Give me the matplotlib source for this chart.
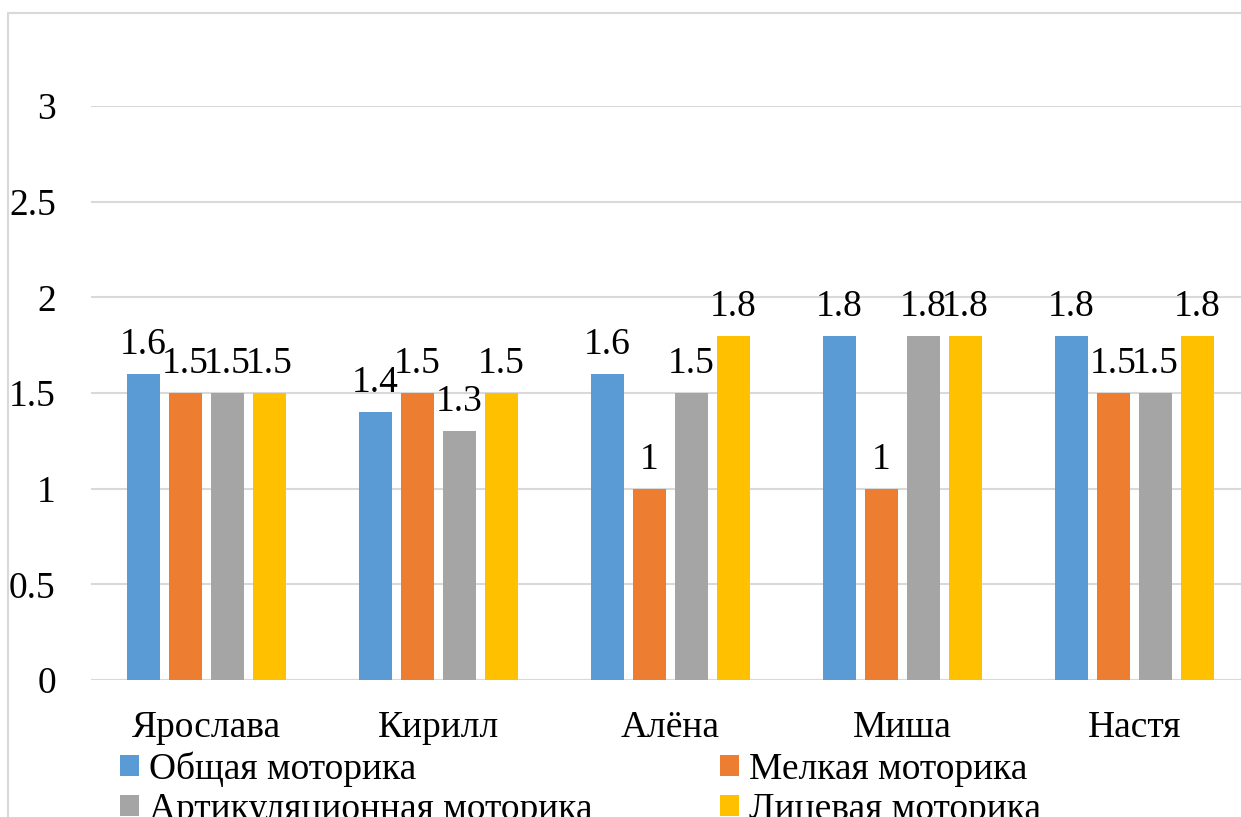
import matplotlib
matplotlib.use("Agg")
import matplotlib.pyplot as plt
from matplotlib.patches import Rectangle
import numpy as np

children = ["Ярослава", "Кирилл", "Алёна", "Миша", "Настя"]
series_names = ["Общая моторика", "Мелкая моторика", "Артикуляционная моторика", "Лицевая моторика"]
general = [1.6, 1.4, 1.6, 1.8, 1.8]
fine = [1.5, 1.5, 1.0, 1.0, 1.5]
articulation = [1.5, 1.3, 1.5, 1.8, 1.5]
facial = [1.5, 1.5, 1.8, 1.8, 1.8]
y_ticks = [0, 0.5, 1, 1.5, 2, 2.5, 3]

colors = ["#5B9BD5", "#ED7D31", "#A5A5A5", "#FFC000"]
grid_color = "#d9d9d9"
font = "Liberation Serif"
fs = 27

W, H = 1241, 817
fig = plt.figure(figsize=(W / 100, H / 100), dpi=100)
ax = fig.add_axes([90.5 / W, (H - 680) / H, 1160 / W, 574 / H])

x = np.arange(len(children))
step = 0.181
width = 0.142
handles = []
for i, (vals, name) in enumerate(zip([general, fine, articulation, facial], series_names)):
    bars = ax.bar(x + (i - 1.5) * step, vals, width, color=colors[i], label=name, zorder=3)
    ax.bar_label(bars, fmt="%g", padding=8.5, fontsize=fs, family=font)
    handles.append(bars)

ax.set_xlim(-0.5, 4.5)
ax.set_ylim(0, 3)
ax.set_yticks(y_ticks)
ax.set_yticklabels([f"{t:g}" for t in y_ticks], family=font, fontsize=fs)
ax.set_xticks(x)
ax.set_xticklabels(children, family=font, fontsize=fs)
ax.tick_params(axis="y", length=0, pad=25)
ax.tick_params(axis="x", length=0, pad=22)
ax.grid(axis="y", color=grid_color, linewidth=1.5, zorder=0)
ax.set_axisbelow(True)
for s in ax.spines.values():
    s.set_visible(False)
ax.axhline(0, color=grid_color, linewidth=1.5, zorder=1)

# Excel fills the legend row by row
order = [0, 2, 1, 3]
leg = fig.legend([handles[k] for k in order], [series_names[k] for k in order],
                 ncol=2, loc="upper left", bbox_to_anchor=(120 / W, 1 - 751.5 / H),
                 frameon=False, prop={"family": font, "size": fs},
                 handlelength=0.5, handleheight=0.5,
                 handletextpad=0.27, columnspacing=3.4, labelspacing=0.14,
                 borderpad=0, borderaxespad=0)

fig.patches.append(Rectangle((8 / W, -0.1), 2, (H - 13) / H + 0.1, transform=fig.transFigure,
                             fill=False, edgecolor=grid_color, linewidth=1.5))

fig.savefig("out.png", dpi=100)
